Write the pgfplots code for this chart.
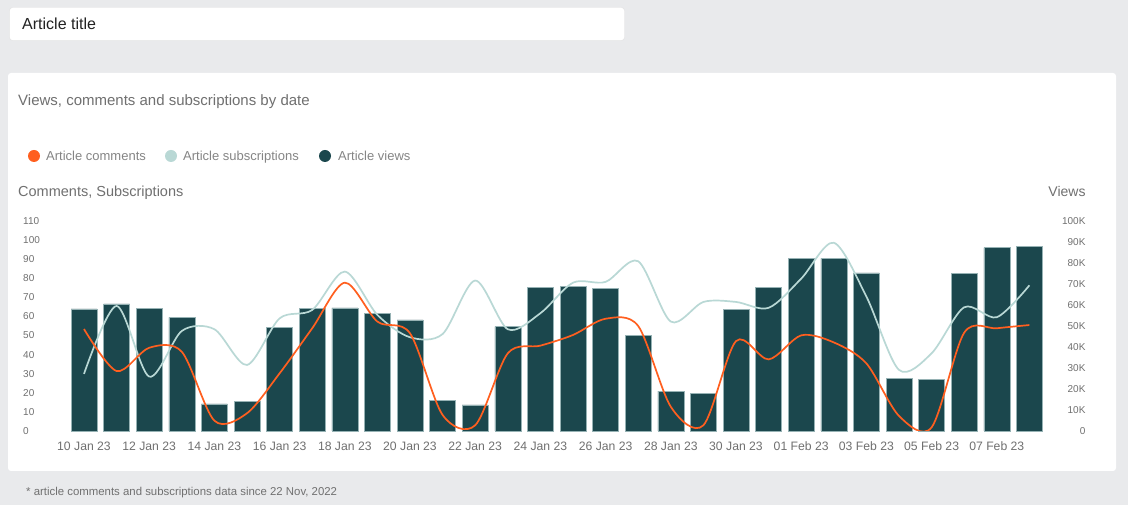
\documentclass[border=0pt]{standalone}
\usepackage{pgfplots}
\pgfplotsset{compat=1.18}
\usepackage{pgfplotstable}
\usepackage{fontspec}
\setmainfont{Liberation Sans}
\definecolor{bg}{HTML}{E9EAEC}
\definecolor{barc}{HTML}{1B474D}
\definecolor{orng}{HTML}{FF5F1F}
\definecolor{lteal}{HTML}{B9D8D5}
\definecolor{txt}{HTML}{707070}
\definecolor{dark}{HTML}{222222}

\pgfplotstableread{
x views com sub
0 58100 53.4 29.9
1 60500 31.4 65.5
2 58300 43.6 28.5
3 54100 41.5 52.4
4 12900 5.4 53.3
5 14200 9.3 34.6
6 49200 30.2 59.0
7 58300 53.8 63.4
8 58600 77.7 83.5
9 55900 57.3 60.8
10 52900 51.2 49.1
11 14500 8.4 50.8
12 12400 3.0 78.8
13 49700 40.7 53.3
14 68300 44.7 61.7
15 69000 50.3 77.7
16 67800 58.8 78.1
17 45500 55.0 88.9
18 19000 12.7 57.3
19 18000 3.0 67.6
20 58000 47.1 67.6
21 68500 37.5 64.5
22 82000 50.1 79.8
23 82200 46.4 98.6
24 75300 35.4 70.4
25 25200 7.9 32.0
26 24700 1.9 40.7
27 75000 51.5 64.8
28 87300 53.8 59.6
29 87900 55.5 76.3
}\data

\begin{document}
\begin{tikzpicture}[x=1pt,y=1pt]
\fill[bg] (0pt,0pt) rectangle (1128pt,505pt);
\useasboundingbox (0pt,0pt) rectangle (1128pt,505pt);
% title box
\filldraw[fill=white, draw=black!12, rounded corners=3pt] (9.5pt,497.5pt) rectangle (624.5pt,464.5pt);
\node[anchor=base west, inner sep=0pt, font=\fontsize{16}{19}\selectfont, text=dark] at (22pt,475pt) {Article title};
% card
\fill[white, rounded corners=3pt] (8pt,432pt) rectangle (1116pt,34pt);
\node[anchor=base west, inner sep=0pt, font=\fontsize{15}{18}\selectfont, text=txt] at (18pt,399.5pt) {Views, comments and subscriptions by date};
% legend
\fill[orng] (34pt,349pt) circle (6pt);
\node[anchor=base west, inner sep=0pt, font=\fontsize{13}{16}\selectfont, text=txt!85] at (46pt,344pt) {Article comments};
\fill[lteal] (171pt,349pt) circle (6pt);
\node[anchor=base west, inner sep=0pt, font=\fontsize{13}{16}\selectfont, text=txt!85] at (183pt,344pt) {Article subscriptions};
\fill[barc] (325pt,349pt) circle (6pt);
\node[anchor=base west, inner sep=0pt, font=\fontsize{13}{16}\selectfont, text=txt!85] at (338pt,344pt) {Article views};
% axis titles
\node[anchor=base west, inner sep=0pt, font=\fontsize{14.5}{17}\selectfont, text=txt] at (18pt,308.5pt) {Comments, Subscriptions};
\node[anchor=base east, inner sep=0pt, font=\fontsize{14}{17}\selectfont, text=txt] at (1085.7pt,308.5pt) {Views};
% footnote
\node[anchor=base west, inner sep=0pt, font=\fontsize{11.4}{14}\selectfont, text=txt] at (26pt,9.5pt) {* article comments and subscriptions data since 22 Nov, 2022};

% bars (right axis)
\begin{axis}[
  at={(51.4pt,74pt)}, anchor=south west, scale only axis,
  width=994.3pt, height=210pt,
  xmin=-1, xmax=29.5, ymin=0, ymax=100000,
  axis x line*=bottom, axis y line*=right,
  axis line style={draw=none}, major tick length=0pt,
  scaled ticks=false,
  xtick={0,2,...,28},
  xticklabels={10 Jan 23,12 Jan 23,14 Jan 23,16 Jan 23,18 Jan 23,20 Jan 23,22 Jan 23,24 Jan 23,26 Jan 23,28 Jan 23,30 Jan 23,01 Feb 23,03 Feb 23,05 Feb 23,07 Feb 23},
  xticklabel style={font=\fontsize{12.2}{14}\selectfont, text=txt, anchor=north, yshift=-7pt},
  ytick={0,10000,...,100000},
  yticklabels={0,10K,20K,30K,40K,50K,60K,70K,80K,90K,100K},
  yticklabel style={font=\fontsize{10}{12}\selectfont, text=txt, anchor=east, xshift=43.3pt},
  clip=false,
]
\addplot[ybar, bar width=26pt, fill=barc, draw={rgb,255:red,150;green,178;blue,180}, line width=0.6pt] table[x=x, y=views] {\data};
\end{axis}

% lines (left axis)
\begin{axis}[
  at={(51.4pt,74pt)}, anchor=south west, scale only axis,
  width=994.3pt, height=210pt,
  xmin=-1, xmax=29.5, ymin=0, ymax=110,
  axis x line*=bottom, axis y line*=left,
  axis line style={draw=none}, major tick length=0pt,
  xtick=\empty,
  ytick={0,10,...,110},
  yticklabels={0,10,20,30,40,50,60,70,80,90,100,110},
  yticklabel style={font=\fontsize{10}{12}\selectfont, text=txt, anchor=west, xshift=-31.7pt},
]
\addplot[lteal, line width=1.7pt, smooth, tension=0.5] table[x=x, y=sub] {\data};
\addplot[orng, line width=1.7pt, smooth, tension=0.5] table[x=x, y=com] {\data};
\end{axis}
\end{tikzpicture}
\end{document}
